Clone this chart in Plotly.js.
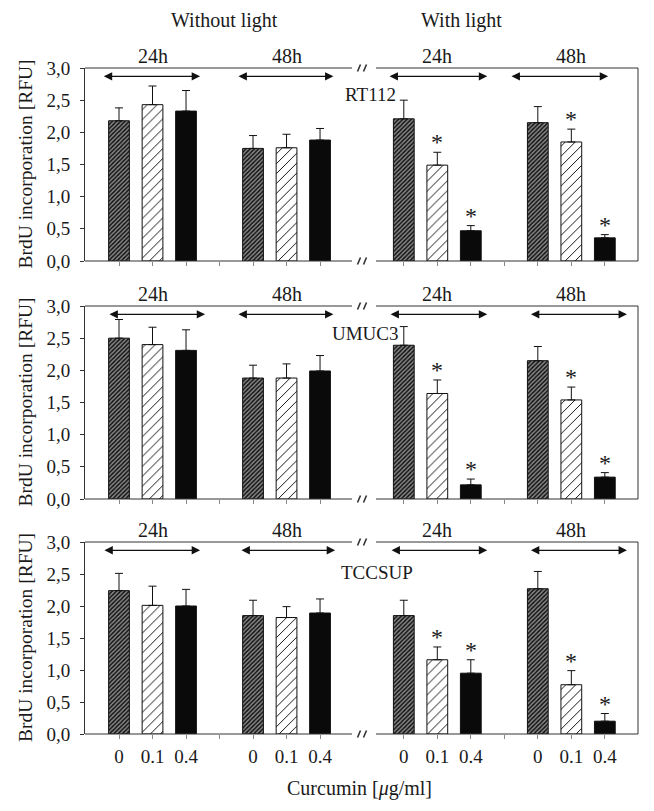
<!DOCTYPE html>
<html><head><meta charset="utf-8">
<script src="https://cdn.plot.ly/plotly-3.0.1.min.js"></script>
<style>body{margin:0;background:#fff}#chart{width:654px;height:811px}</style>
</head><body><div id="chart"></div>
<script>
// ---------- DATA ----------
const concentrations = ['0', '0.1', '0.4'];
const groupLabels = ['24h', '48h', '24h', '48h'];          // without light 24h/48h, with light 24h/48h
const lightLabels = ['Without light', 'With light'];
const cellLines = ['RT112', 'UMUC3', 'TCCSUP'];

// values[group][concentration]
const rt112Values  = [[2.18, 2.43, 2.33], [1.75, 1.76, 1.88], [2.21, 1.49, 0.47], [2.15, 1.85, 0.36]];
const rt112Errors  = [[0.20, 0.29, 0.32], [0.20, 0.21, 0.18], [0.29, 0.20, 0.08], [0.25, 0.20, 0.05]];
const umuc3Values  = [[2.50, 2.40, 2.31], [1.88, 1.88, 1.99], [2.39, 1.64, 0.22], [2.15, 1.54, 0.34]];
const umuc3Errors  = [[0.29, 0.27, 0.32], [0.20, 0.22, 0.24], [0.29, 0.21, 0.09], [0.22, 0.20, 0.07]];
const tccsupValues = [[2.24, 2.01, 2.00], [1.85, 1.82, 1.89], [1.85, 1.16, 0.95], [2.27, 0.77, 0.20]];
const tccsupErrors = [[0.27, 0.30, 0.26], [0.24, 0.17, 0.22], [0.24, 0.20, 0.21], [0.27, 0.22, 0.12]];
// significance markers (*)
const rt112Sig  = [[0, 0, 0], [0, 0, 0], [0, 1, 1], [0, 1, 1]];
const umuc3Sig  = [[0, 0, 0], [0, 0, 0], [0, 1, 1], [0, 1, 1]];
const tccsupSig = [[0, 0, 0], [0, 0, 0], [0, 1, 1], [0, 1, 1]];

const yTitle = 'BrdU incorporation [RFU]';
const xTitle = 'Curcumin [<i>μ</i>g/ml]';

// ---------- LAYOUT HELPERS ----------
const W = 654, H = 811;
const px = x => x / W, py = y => 1 - y / H;
const FONT = '"Liberation Serif", "Times New Roman", serif';
const TXT = '#1a1a1a', LINE = '#333';

const panels = [
  {name: cellLines[0], vals: rt112Values, errs: rt112Errors, sig: rt112Sig, top: 68, bot: 261,
   arrows: [[-0.5, 2.42], [3.52, 6.4], [8.03, 10.99], [11.67, 14.6]], nameXY: [370, 95]},
  {name: cellLines[1], vals: umuc3Values, errs: umuc3Errors, sig: umuc3Sig, top: 306, bot: 499,
   arrows: [[-0.33, 2.57], [3.52, 6.4], [8.06, 10.99], [12.25, 15.16]], nameXY: [365, 333]},
  {name: cellLines[2], vals: tccsupValues, errs: tccsupErrors, sig: tccsupSig, top: 542, bot: 734,
   arrows: [[-0.48, 2.42], [3.61, 6.45], [8.09, 10.99], [12.25, 15.16]], nameXY: [377, 572]}
];
const groupStart = [0, 4, 8.5, 12.5];
const gapTicks = [3, 11.5];
const xLeft = 85, xRight = 638;
const gapL = (352 - xLeft) / (xRight - xLeft), gapR = (376 - xLeft) / (xRight - xLeft);

const patterns = [
  {shape: '/', size: 3, solidity: 0.5, fgcolor: '#111', bgcolor: '#8a8a8a', fillmode: 'replace'},
  {shape: '/', size: 7, solidity: 0.14, fgcolor: '#111', bgcolor: '#fff', fillmode: 'replace'},
  null
];

const traces = [], annotations = [], shapes = [];
const layout = {
  width: W, height: H, margin: {l: 0, r: 0, t: 0, b: 0},
  paper_bgcolor: '#fff', plot_bgcolor: 'rgba(0,0,0,0)',
  showlegend: false, separators: ',.', barmode: 'group',
  font: {family: FONT, color: TXT, size: 18},
  annotations, shapes
};

const tickvals = [], ticktext = [];
groupStart.forEach(g => concentrations.forEach((c, ci) => { tickvals.push(g + ci); ticktext.push(c); }));
gapTicks.forEach(t => { tickvals.push(t); ticktext.push(''); });

panels.forEach((p, pi) => {
  const sx = pi ? String(pi + 1) : '';
  const xa = 'x' + sx, ya = 'y' + sx;
  concentrations.forEach((c, ci) => {
    const x = groupStart.map(g => g + ci);
    const y = p.vals.map(v => v[ci]);
    const e = p.errs.map(v => v[ci]);
    const marker = {color: ci === 2 ? '#0a0a0a' : '#fff', line: {color: '#111', width: 1}};
    if (patterns[ci]) marker.pattern = patterns[ci];
    traces.push({type: 'bar', x, y, xaxis: xa, yaxis: ya, width: 0.62, marker,
      error_y: {type: 'data', symmetric: false, array: e, arrayminus: e.map(() => 0),
        color: '#111', thickness: 1, width: 4},
      hoverinfo: 'skip'});
    groupStart.forEach((g, gi) => {
      if (p.sig[gi][ci]) annotations.push({xref: xa, yref: ya, x: g + ci, y: p.vals[gi][ci] + p.errs[gi][ci],
        text: '*', showarrow: false, yanchor: 'bottom', yshift: -5, font: {size: 24, color: TXT}});
    });
  });

  const yDom = [py(p.bot), py(p.top)];
  layout['xaxis' + sx] = {domain: [px(xLeft), px(xRight)], anchor: ya, range: [-1.015, 15.49],
    showline: false, zeroline: false, showgrid: false, tickvals, ticktext,
    ticks: 'outside', ticklen: 4, tickcolor: '#888', tickwidth: 1,
    showticklabels: pi === 2, ticklabelstandoff: 1, tickfont: {size: 19, color: TXT}};
  layout['yaxis' + sx] = {domain: yDom, anchor: xa, range: [0, 3], tick0: 0, dtick: 0.5, tickformat: '.1f',
    showline: true, linecolor: LINE, linewidth: 1, zeroline: false, showgrid: false,
    ticks: 'outside', ticklen: 4, tickcolor: LINE, ticklabelstandoff: 6, tickfont: {size: 19, color: TXT}};

  // frame with axis break
  const dx = xa + ' domain', dy = ya + ' domain';
  const ln = {color: LINE, width: 1};
  [0, 1].forEach(yy => {
    shapes.push({type: 'line', xref: dx, yref: dy, x0: 0, x1: gapL, y0: yy, y1: yy, line: ln});
    shapes.push({type: 'line', xref: dx, yref: dy, x0: gapR, x1: 1, y0: yy, y1: yy, line: ln});
  });
  shapes.push({type: 'line', xref: dx, yref: dy, x0: 1, x1: 1, y0: 0, y1: 1, line: ln});
  [p.top, p.bot].forEach(yl => {
    [359, 365].forEach(xs => shapes.push({type: 'line', xref: 'paper', yref: 'paper',
      x0: px(xs - 1.5), x1: px(xs + 1.5), y0: py(yl + 3.5), y1: py(yl - 3.5), line: {color: LINE, width: 1.6}}));
  });

  // arrows and time labels
  p.arrows.forEach((a, gi) => {
    annotations.push({xref: xa, yref: ya, axref: xa, ayref: ya, x: a[1], y: 2.87, ax: a[0], ay: 2.87,
      text: '', showarrow: true, arrowside: 'end+start', arrowhead: 2, arrowsize: 1.4, arrowwidth: 1.2,
      arrowcolor: '#111', standoff: 0, startstandoff: 0});
    annotations.push({xref: xa, yref: 'paper', x: groupStart[gi] + 1, y: py(p.top - 12),
      text: groupLabels[gi], showarrow: false, yanchor: 'middle', font: {size: 20, color: TXT}});
  });

  // cell line name
  annotations.push({xref: 'paper', yref: 'paper', x: px(p.nameXY[0]), y: py(p.nameXY[1]),
    text: p.name, showarrow: false, xanchor: 'center', yanchor: 'middle', font: {size: 19, color: TXT}});
  // y-axis title
  annotations.push({xref: 'paper', yref: 'paper', x: px(25), y: py((p.top + p.bot) / 2), textangle: -90,
    text: yTitle, showarrow: false, xanchor: 'center', yanchor: 'middle', font: {size: 19.5, color: TXT}});
});

annotations.push({xref: 'paper', yref: 'paper', x: px(224), y: py(21), text: lightLabels[0], showarrow: false,
  yanchor: 'middle', font: {size: 20, color: TXT}});
annotations.push({xref: 'paper', yref: 'paper', x: px(504), y: py(21), text: lightLabels[1], showarrow: false,
  yanchor: 'middle', font: {size: 20, color: TXT}});
annotations.push({xref: 'paper', yref: 'paper', x: px(359), y: py(788), text: xTitle, showarrow: false,
  yanchor: 'middle', font: {size: 20, color: TXT}});

Plotly.newPlot('chart', traces, layout, {staticPlot: true, displayModeBar: false});
</script></body></html>
